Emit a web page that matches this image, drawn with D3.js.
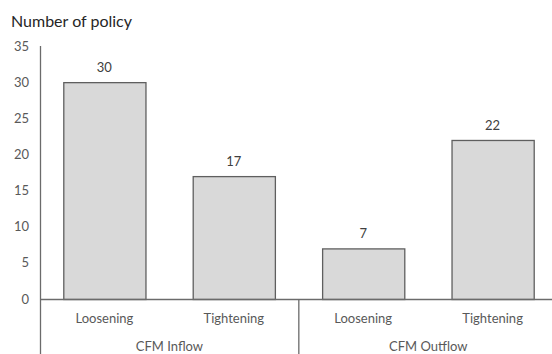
<!DOCTYPE html>
<html>
<head>
<meta charset="utf-8">
<script src="https://cdn.jsdelivr.net/npm/d3@7/dist/d3.min.js"></script>
<style>
  html, body { margin: 0; padding: 0; background: #fff; }
  svg { display: block; font-family: Lato, "Open Sans", sans-serif; }
</style>
</head>
<body>
<svg id="chart" width="552" height="354"></svg>
<script>
// Policy counts by capital-flow-management direction and stance
const groups = ["CFM Inflow", "CFM Outflow"];
const stances = ["Loosening", "Tightening"];
const categories = ["CFM Inflow|Loosening", "CFM Inflow|Tightening", "CFM Outflow|Loosening", "CFM Outflow|Tightening"];
const values = [30, 17, 7, 22];
const yTicks = [0, 5, 10, 15, 20, 25, 30, 35];
const title = "Number of policy";

const svg = d3.select("#chart");
const textColor = "#595959";
const lineColor = "#6b6b6b";

const x = d3.scaleBand().domain(categories).range([40, 557]).paddingInner(0.365).paddingOuter(0.18);
const y = d3.scaleLinear().domain([0, 35]).range([299, 46]);

// title
svg.append("text")
  .attr("x", 11).attr("y", 27)
  .attr("font-size", 16).attr("fill", "#262626")
  .text(title);

// y tick labels
svg.append("g").selectAll("text").data(yTicks).join("text")
  .attr("x", 29).attr("y", d => y(d))
  .attr("dy", "0.35em")
  .attr("text-anchor", "end")
  .attr("font-size", 13).attr("fill", textColor)
  .text(d => d);

// bars
const data = categories.map((c, i) => ({ c, v: values[i] }));
svg.append("g").selectAll("rect").data(data).join("rect")
  .attr("x", d => x(d.c) + 0.5)
  .attr("y", d => y(d.v) + 0.5)
  .attr("width", x.bandwidth())
  .attr("height", d => y(0) - y(d.v))
  .attr("fill", "#d9d9d9")
  .attr("stroke", "#5f5f5f")
  .attr("stroke-width", 1.3);

// value labels
svg.append("g").selectAll("text").data(data).join("text")
  .attr("x", d => x(d.c) + x.bandwidth() / 2)
  .attr("y", d => y(d.v) - 10)
  .attr("text-anchor", "middle")
  .attr("font-size", 13).attr("fill", "#404040")
  .text(d => d.v);

// axes lines
const step = x.step();
const x0 = x.range()[0];
svg.append("line")
  .attr("x1", x0 + 0.5).attr("x2", x0 + 0.5)
  .attr("y1", y(35)).attr("y2", 354)
  .attr("stroke", lineColor).attr("stroke-width", 1.3);
svg.append("line")
  .attr("x1", x0).attr("x2", 552)
  .attr("y1", y(0) + 0.5).attr("y2", y(0) + 0.5)
  .attr("stroke", lineColor).attr("stroke-width", 1.3);

// group separator below axis
svg.append("line")
  .attr("x1", x0 + step * 2).attr("x2", x0 + step * 2)
  .attr("y1", y(0)).attr("y2", 354)
  .attr("stroke", lineColor).attr("stroke-width", 1.3);

// stance labels
svg.append("g").selectAll("text").data(categories).join("text")
  .attr("x", d => x(d) + x.bandwidth() / 2)
  .attr("y", 318).attr("dy", "0.35em")
  .attr("text-anchor", "middle")
  .attr("font-size", 13).attr("fill", textColor)
  .text(d => d.split("|")[1]);

// group labels
svg.append("g").selectAll("text").data(groups).join("text")
  .attr("x", (d, i) => x0 + step * (2 * i + 1))
  .attr("y", 346).attr("dy", "0.35em")
  .attr("text-anchor", "middle")
  .attr("font-size", 13).attr("fill", textColor)
  .text(d => d);
</script>
</body>
</html>
